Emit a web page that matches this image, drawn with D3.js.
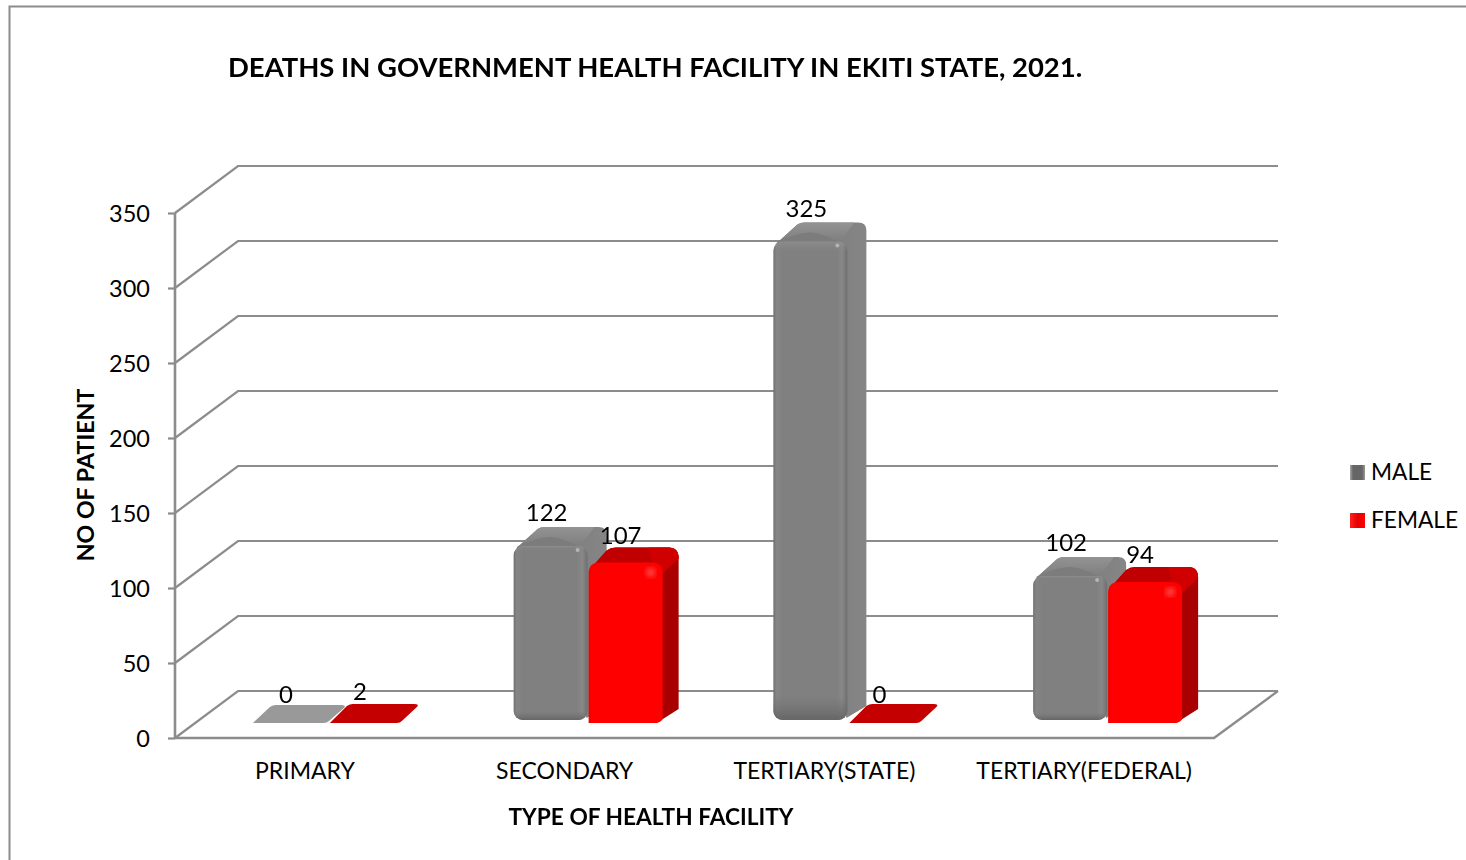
<!DOCTYPE html>
<html><head><meta charset="utf-8">
<script src="https://cdn.jsdelivr.net/npm/d3@7"></script>
<style>html,body{margin:0;padding:0;background:#fff;overflow:hidden}svg{display:block}
text{font-family:Lato,"Open Sans",sans-serif;fill:#000}</style></head>
<body><svg id="c" width="1466" height="860"></svg>
<script>
const categories = ["PRIMARY","SECONDARY","TERTIARY(STATE)","TERTIARY(FEDERAL)"];
const maleValues = [0,122,325,102];
const femaleValues = [2,107,0,94];
const yTicks = [0,50,100,150,200,250,300,350];
const titleText = "DEATHS IN GOVERNMENT HEALTH FACILITY IN EKITI STATE, 2021.";
const xTitle = "TYPE OF HEALTH FACILITY";
const yTitle = "NO OF PATIENT";
const seriesNames = ["MALE","FEMALE"];

const svg = d3.select("#c");
const defs = svg.append("defs");
function grad(id, stops, vertical){
  const g = defs.append("linearGradient").attr("id",id).attr("x1",0).attr("y1",0)
    .attr("x2",vertical?0:1).attr("y2",vertical?1:0);
  stops.forEach(s=>g.append("stop").attr("offset",s[0]).attr("stop-color",s[1]).attr("stop-opacity",s[2]===undefined?1:s[2]));
}
grad("mf",[[0,"#707070"],[.04,"#858585"],[.12,"#808080"],[.86,"#808080"],[.93,"#888888"],[1,"#6e6e6e"]]);
grad("mb",[[0,"#999",.5],[.025,"#808080",0],[.95,"#707070",0],[1,"#666",1]],true);
grad("ms",[[0,"#747474"],[1,"#868686"]]);
grad("mt",[[0,"#939393"],[1,"#7d7d7d"]],true);
grad("ff",[[0,"#ee0000"],[.04,"#ff0000"],[1,"#ff0000"]]);
grad("lm",[[0,"#a8a8a8"],[.2,"#666"],[.8,"#666"],[1,"#999"]]);
grad("lf",[[0,"#ff2020"],[.5,"#e80000"],[1,"#ff0000"]]);
defs.append("filter").attr("id","soft").append("feGaussianBlur").attr("stdDeviation",0.7);
defs.append("filter").attr("id","glow").append("feGaussianBlur").attr("stdDeviation",2.5);

const frameColor="#8c8c8c", gridColor="#8c8c8c";
svg.append("path").attr("d","M9.5,860V6.5H1466").attr("fill","none").attr("stroke",frameColor).attr("stroke-width",2);

const x0=175, x1=1214, dx=63, dy=47;
const y = d3.scaleLinear().domain([0,350]).range([738,213]);
const x = d3.scaleBand().domain(categories).range([x0,x1]);

// walls
const grid = svg.append("g").attr("fill","none").attr("stroke",gridColor);
yTicks.forEach(t=>{
  grid.append("path").attr("d",`M${x0},${y(t)}L${x0+dx},${y(t)-dy}H1278`).attr("stroke-width",2.2);
});
grid.append("path").attr("d",`M${x0},${y(0)}H${x1}L1278,${y(0)-dy}`).attr("stroke-width",2.4);

// axes
const ax = svg.append("g").attr("transform",`translate(${x0},0)`)
  .call(d3.axisLeft(y).tickValues(yTicks).tickSize(7).tickPadding(18).tickFormat(d3.format("d")));
ax.selectAll("path,line").attr("stroke",gridColor).attr("stroke-width",2.2);
ax.select(".domain").attr("d",`M0,${y(350)}V${y(0)+1}`).attr("stroke-width",2.6);
ax.selectAll("text").attr("font-size",23.5).attr("dy","0.34em").attr("fill","#000");

svg.append("g").selectAll("text").data(categories).join("text")
  .attr("x",d=>x(d)+x.bandwidth()/2).attr("y",779).attr("text-anchor","middle").attr("font-size",23).text(d=>d);

// bars
const barW=74;
const maleY=d3.scaleLinear().domain([0,350]).range([729,204]);
const femY=d3.scaleLinear().domain([0,350]).range([723,198]);
const barsG = svg.append("g").attr("filter","url(#soft)");
function flat(xl,w,yf,ddx,ddy,fill){
  barsG.append("path").attr("d",
   `M${xl+3},${yf}L${xl+ddx},${yf-ddy+2}Q${xl+ddx+3},${yf-ddy} ${xl+ddx+6},${yf-ddy}H${xl+w+ddx-3}Q${xl+w+ddx+3},${yf-ddy} ${xl+w+ddx},${yf-ddy+3}L${xl+w+5},${yf-2}Q${xl+w+3},${yf} ${xl+w},${yf}Z`)
   .attr("fill",fill);
}
function maleBar(xl,v){
  const top=maleY(v), bot=720, r=9, ddx=20, ddy=19, xr=xl+barW-1;
  barsG.append("path").attr("d",`M${xl+3},${top+2}L${xl+ddx+4},${top-ddy+2}Q${xl+ddx+7},${top-ddy} ${xl+ddx+11},${top-ddy}H${xr+ddx-8}Q${xr+ddx},${top-ddy} ${xr+ddx},${top-ddy+8}V${bot-14}L${xr},${bot-2}Z`).attr("fill","url(#ms)");
  barsG.append("path").attr("d",`M${xl+3},${top+2}L${xl+ddx+4},${top-ddy+2}Q${xl+ddx+7},${top-ddy} ${xl+ddx+11},${top-ddy}H${xr+ddx-12}L${xr-8},${top+2}Z`).attr("fill","url(#mt)");
  barsG.append("path").attr("d",`M${xl+3},${top+1}Q${xl+ddx+5},${top-ddy+9} ${xl+38},${top-9}Q${xl+50},${top-8} ${xr-7},${top+1}Z`).attr("fill","#7c7c7c");
  barsG.append("rect").attr("x",xl).attr("y",top).attr("width",barW).attr("height",bot-top).attr("rx",r).attr("fill","url(#mf)");
  barsG.append("rect").attr("x",xl).attr("y",top).attr("width",barW).attr("height",bot-top).attr("rx",r).attr("fill","url(#mb)");
  barsG.append("circle").attr("cx",xr-9).attr("cy",top+4).attr("r",2).attr("fill","#b5b5b5");
}
function femaleBar(xl,v){
  const top=femY(v), bot=723, r=11, ddx=17, ddy=15, w=barW, xr=xl+w;
  barsG.append("path").attr("d",`M${xl+2},${top+6}L${xl+ddx+1},${top-ddy+3}Q${xl+ddx+5},${top-ddy} ${xl+ddx+10},${top-ddy}H${xr+ddx-11}Q${xr+ddx-1},${top-ddy} ${xr+ddx-1},${top-ddy+11}V${bot-14}L${xr-6},${bot}H${xr-10}V${top+6}Z`).attr("fill","#a80000");
  barsG.append("path").attr("d",`M${xl+2},${top+6}L${xl+ddx+1},${top-ddy+3}Q${xl+ddx+5},${top-ddy} ${xl+ddx+10},${top-ddy}H${xr+ddx-11}Q${xr+ddx-1},${top-ddy} ${xr+ddx-1},${top-ddy+11}L${xr},${top+11}Q${xr-2},${top} ${xr-10},${top}Z`).attr("fill","#c00000");
  barsG.append("path").attr("d",`M${xr-14},${top-ddy}H${xr+ddx-11}Q${xr+ddx-1},${top-ddy} ${xr+ddx-1},${top-ddy+11}L${xr},${top+11}Q${xr-2},${top} ${xr-10},${top}Z`).attr("fill","#d00000");
  barsG.append("path").attr("d",`M${xl},${bot}V${top+r}Q${xl},${top} ${xl+r},${top}H${xr-r}Q${xr},${top} ${xr},${top+r}V${bot-4}Q${xr-2},${bot} ${xr-8},${bot}Z`).attr("fill","url(#ff)");
  barsG.append("circle").attr("cx",xr-12).attr("cy",top+10).attr("r",5).attr("fill","#ff3c3c").attr("filter","url(#glow)");
}
categories.forEach((c,i)=>{
  const cx=x(c)+x.bandwidth()/2+23;
  const m=maleValues[i], f=femaleValues[i];
  if(m>2) maleBar(cx-74,m); else flat(cx-78,74,723,20,18,"#999999");
  if(f>2) femaleBar(cx+1,f); else flat(cx-1,70,723,20,19,"#c40000");
});
// value labels
categories.forEach((c,i)=>{
  const cx=x(c)+x.bandwidth()/2+23;
  const m=maleValues[i], f=femaleValues[i];
  const my=m>2?maleY(m)-25:703, fy=f>2?femY(f)-19:(f===0?703:700);
  svg.append("text").attr("x",cx-(m>2?41:42)).attr("y",my).attr("text-anchor","middle").attr("font-size",24).text(m);
  svg.append("text").attr("x",cx+(f>2?33:32)).attr("y",fy).attr("text-anchor","middle").attr("font-size",24).text(f);
});

// titles
svg.append("text").attr("x",228).attr("y",77).attr("font-size",27.45).attr("font-weight",700).text(titleText);
svg.append("text").attr("x",651).attr("y",825).attr("text-anchor","middle").attr("font-size",22.7).attr("font-weight",700).text(xTitle);
svg.append("text").attr("transform","translate(94,475) rotate(-90)").attr("text-anchor","middle").attr("font-size",23.2).attr("font-weight",700).text(yTitle);

// legend
seriesNames.forEach((n,i)=>{
  const ly=480+i*48;
  svg.append("rect").attr("x",1350).attr("y",ly-15).attr("width",15).attr("height",15).attr("fill",i?"url(#lf)":"url(#lm)");
  svg.append("text").attr("x",1371).attr("y",ly).attr("font-size",22.7).text(n);
});
</script></body></html>
